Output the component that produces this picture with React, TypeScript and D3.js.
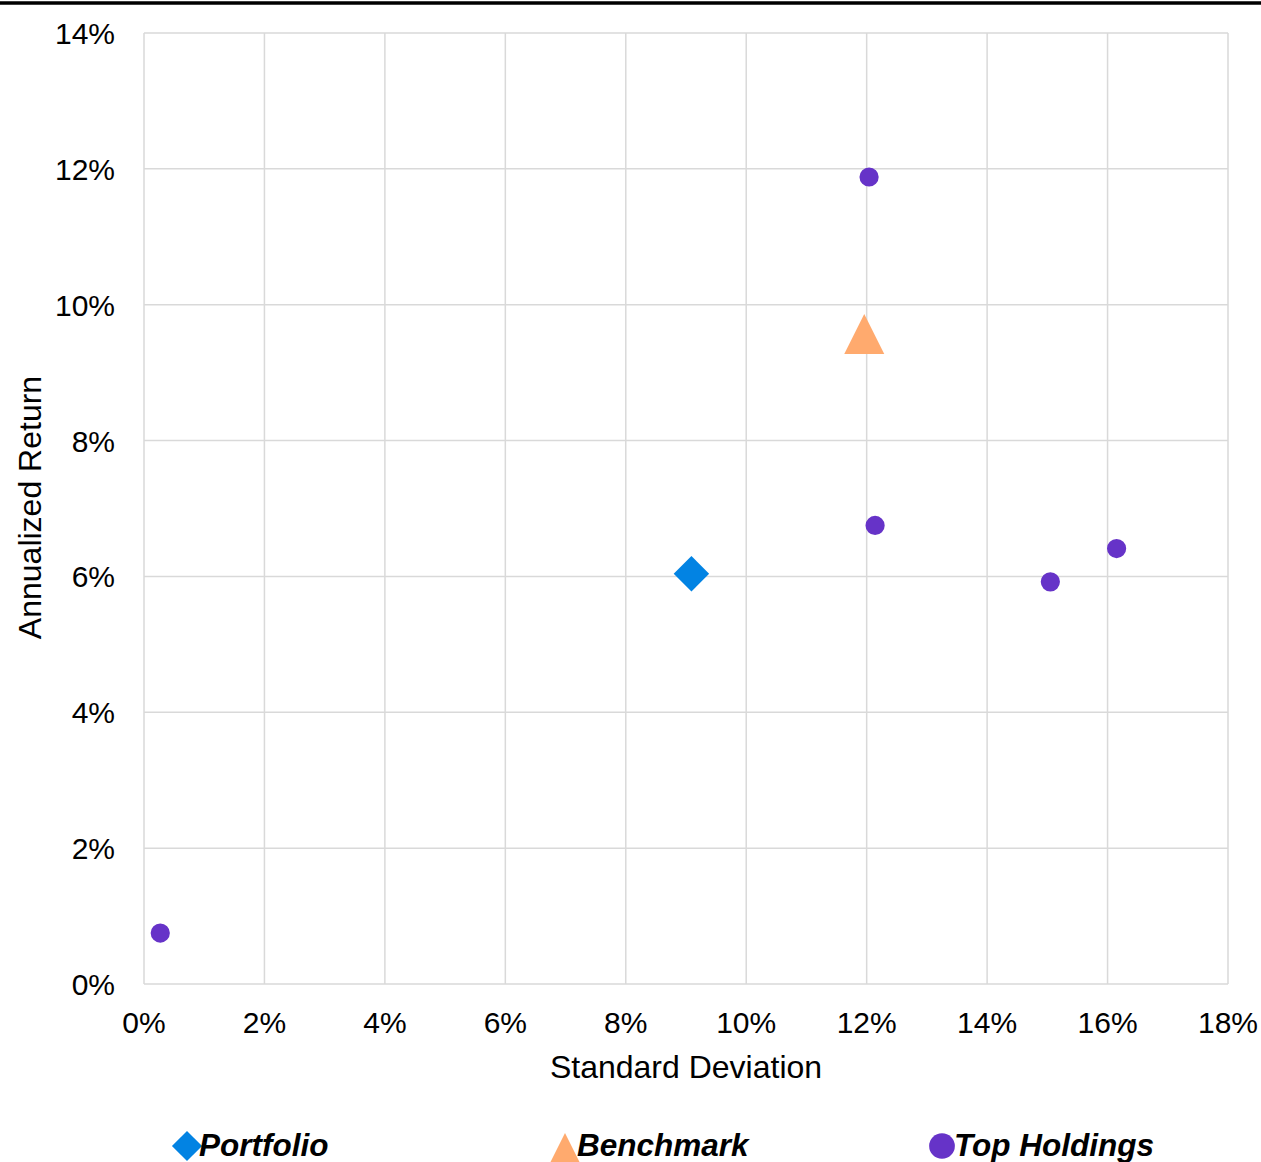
import React, { useEffect, useRef } from 'react';
import * as d3 from 'd3';

// values (fractions)
const portfolio = [{ sd: 0.0909, ret: 0.0604 }];
const benchmark = [{ sd: 0.1196, ret: 0.0957 }];
const holdings = [
  { sd: 0.1204, ret: 0.1188 },
  { sd: 0.1214, ret: 0.0675 },
  { sd: 0.1505, ret: 0.0592 },
  { sd: 0.1615, ret: 0.0641 },
  { sd: 0.0027, ret: 0.0075 },
];
const xTicks = [0, 0.02, 0.04, 0.06, 0.08, 0.1, 0.12, 0.14, 0.16, 0.18];
const yTicks = [0, 0.02, 0.04, 0.06, 0.08, 0.1, 0.12, 0.14];
const legendItems = ['Portfolio', 'Benchmark', 'Top Holdings'];

const W = 1261;
const H = 1162;
const margin = { top: 33, right: 33, bottom: 178, left: 144 };
const FONT = '"Liberation Sans", Arial, sans-serif';
const colors = { portfolio: '#0283E3', benchmark: '#FFAA6E', holdings: '#6633C8' };
const grid = '#D9D9D9';

// excel-style triangle: as tall as it is wide, centred on its box
const boxTriangle: d3.SymbolType = {
  draw(context, size) {
    const s = Math.sqrt(size) / 2;
    context.moveTo(0, -s);
    context.lineTo(s, s);
    context.lineTo(-s, s);
    context.closePath();
  },
};

const App = () => {
  const svgRef = useRef<SVGSVGElement | null>(null);

  useEffect(() => {
    document.body.style.margin = '0';
    if (!svgRef.current) return;
    const svg = d3.select(svgRef.current);
    svg.selectAll('*').remove();

    const width = W - margin.left - margin.right;
    const height = H - margin.top - margin.bottom;

    const x = d3.scaleLinear().domain([0, 0.18]).range([0, width]);
    const y = d3.scaleLinear().domain([0, 0.14]).range([height, 0]);
    const pct = d3.format('.0%');

    // top rule
    svg
      .append('line')
      .attr('x1', 0)
      .attr('x2', W)
      .attr('y1', 3)
      .attr('y2', 3)
      .attr('stroke', '#000')
      .attr('stroke-width', 3.5);

    const chart = svg.append('g').attr('transform', `translate(${margin.left},${margin.top})`);

    // grid
    chart
      .selectAll('line.vgrid')
      .data(xTicks)
      .enter()
      .append('line')
      .attr('class', 'vgrid')
      .attr('x1', (d) => x(d))
      .attr('x2', (d) => x(d))
      .attr('y1', 0)
      .attr('y2', height)
      .attr('stroke', grid)
      .attr('stroke-width', 1.5);

    chart
      .selectAll('line.hgrid')
      .data(yTicks)
      .enter()
      .append('line')
      .attr('class', 'hgrid')
      .attr('x1', 0)
      .attr('x2', width)
      .attr('y1', (d) => y(d))
      .attr('y2', (d) => y(d))
      .attr('stroke', grid)
      .attr('stroke-width', 1.5);

    // tick labels
    chart
      .selectAll('text.xtick')
      .data(xTicks)
      .enter()
      .append('text')
      .attr('class', 'xtick')
      .attr('x', (d) => x(d))
      .attr('y', height + 49)
      .attr('text-anchor', 'middle')
      .attr('font-family', FONT)
      .attr('font-size', 30)
      .attr('fill', '#000')
      .text((d) => pct(d));

    chart
      .selectAll('text.ytick')
      .data(yTicks)
      .enter()
      .append('text')
      .attr('class', 'ytick')
      .attr('x', -29)
      .attr('y', (d) => y(d) + 11)
      .attr('text-anchor', 'end')
      .attr('font-family', FONT)
      .attr('font-size', 30)
      .attr('fill', '#000')
      .text((d) => pct(d));

    // axis titles
    chart
      .append('text')
      .attr('x', width / 2)
      .attr('y', height + 94)
      .attr('text-anchor', 'middle')
      .attr('font-family', FONT)
      .attr('font-size', 32)
      .attr('fill', '#000')
      .text('Standard Deviation');

    chart
      .append('text')
      .attr('transform', `translate(${-103},${height / 2 - 1}) rotate(-90)`)
      .attr('text-anchor', 'middle')
      .attr('font-family', FONT)
      .attr('font-size', 32)
      .attr('fill', '#000')
      .text('Annualized Return');

    // points
    const diamond = d3.symbol().type(d3.symbolDiamond2).size(800);
    const triangle = d3.symbol().type(boxTriangle).size(1600);
    const circle = d3.symbol().type(d3.symbolCircle).size(290);

    chart
      .selectAll('path.holding')
      .data(holdings)
      .enter()
      .append('path')
      .attr('class', 'holding')
      .attr('d', circle)
      .attr('transform', (d) => `translate(${x(d.sd)},${y(d.ret)})`)
      .attr('fill', colors.holdings);

    chart
      .selectAll('path.bench')
      .data(benchmark)
      .enter()
      .append('path')
      .attr('class', 'bench')
      .attr('d', triangle)
      .attr('transform', (d) => `translate(${x(d.sd)},${y(d.ret)})`)
      .attr('fill', colors.benchmark);

    chart
      .selectAll('path.port')
      .data(portfolio)
      .enter()
      .append('path')
      .attr('class', 'port')
      .attr('d', diamond)
      .attr('transform', (d) => `translate(${x(d.sd)},${y(d.ret)})`)
      .attr('fill', colors.portfolio);

    // legend
    const legendX = [187, 565, 942];
    const legendMarks = [
      { d: d3.symbol().type(d3.symbolDiamond2).size(580)(), color: colors.portfolio, dy: 0 },
      { d: d3.symbol().type(boxTriangle).size(900)(), color: colors.benchmark, dy: 2 },
      { d: d3.symbol().type(d3.symbolCircle).size(520)(), color: colors.holdings, dy: 0 },
    ];
    const legend = svg
      .selectAll('g.legend')
      .data(legendItems)
      .enter()
      .append('g')
      .attr('class', 'legend')
      .attr('transform', (_, i) => `translate(${legendX[i]},1146)`);

    legend
      .append('path')
      .attr('d', (_, i) => legendMarks[i].d!)
      .attr('transform', (_, i) => `translate(0,${legendMarks[i].dy})`)
      .attr('fill', (_, i) => legendMarks[i].color);

    legend
      .append('text')
      .attr('x', 12)
      .attr('y', 10)
      .attr('font-family', FONT)
      .attr('font-size', 31.5)
      .attr('font-weight', 'bold')
      .attr('font-style', 'italic')
      .attr('fill', '#000')
      .text((d) => d);
  }, []);

  return <svg ref={svgRef} width={W} height={H} style={{ display: 'block' }} />;
};

export default App;
